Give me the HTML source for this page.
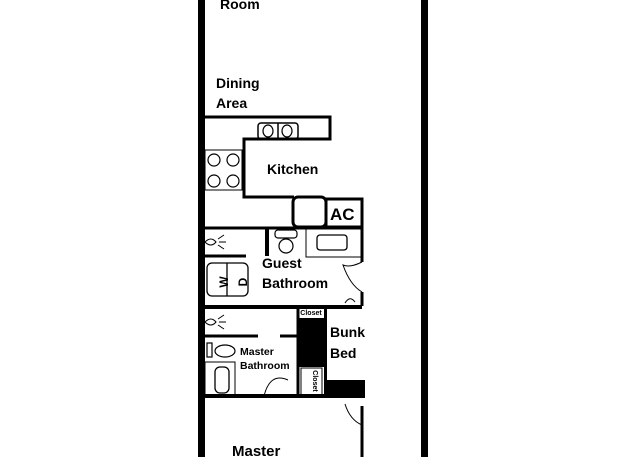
<!DOCTYPE html>
<html><head><style>body{margin:0;background:#fff}svg{display:block}text{font-family:"Liberation Sans",sans-serif;font-weight:bold;fill:#000}</style></head>
<body>
<svg width="640" height="457" viewBox="0 0 640 457">
<rect x="198" y="0" width="7" height="457" fill="#000"/>
<rect x="421" y="0" width="7" height="457" fill="#000"/>
<text x="220" y="9" font-size="14">Room</text>
<text x="216" y="88" font-size="14">Dining</text>
<text x="216" y="108" font-size="14">Area</text>
<g fill="none" stroke="#000">
<path d="M205 117 H330 V139 H244 V197 H294" stroke-width="3"/>
<rect x="258" y="123" width="40" height="16" rx="3" stroke-width="1.5"/>
<line x1="278" y1="123" x2="278" y2="139" stroke-width="1.5"/>
<ellipse cx="268" cy="131" rx="5" ry="6" stroke-width="1.2"/>
<ellipse cx="287" cy="131" rx="5" ry="6" stroke-width="1.2"/>
<rect x="205" y="150" width="37" height="40" stroke-width="1"/>
<circle cx="214" cy="160" r="6" stroke-width="1.2"/><circle cx="233" cy="160" r="6" stroke-width="1.2"/>
<circle cx="214" cy="181" r="6" stroke-width="1.2"/><circle cx="233" cy="181" r="6" stroke-width="1.2"/>
<rect x="293" y="197" width="33" height="30" rx="5" stroke-width="3"/>
<rect x="326" y="199" width="36" height="28" stroke-width="3"/>
<path d="M205 228 H362 V262 M362 292 V306" stroke-width="3"/>
<path d="M362 262 Q350 268 343 265 Q350 285 362 292" stroke-width="1"/>
<rect x="265" y="228" width="4" height="28" fill="#000" stroke="none"/>
<rect x="275" y="230" width="22" height="8" rx="3" stroke-width="1.2"/>
<ellipse cx="286" cy="246" rx="7" ry="7" stroke-width="1.2"/>
<rect x="306" y="229" width="56" height="28" stroke-width="1"/>
<rect x="317" y="235" width="30" height="15" rx="3" stroke-width="1.3"/>
<path d="M205 256 H246" stroke-width="3"/>
<rect x="207" y="263" width="41" height="33" rx="5" stroke-width="1.3"/>
<line x1="227" y1="263" x2="227" y2="296" stroke-width="1.3"/>
<path d="M205 307 H362" stroke-width="4"/>
<path d="M205 336 H258 M280 336 H298" stroke-width="3"/>
<path d="M298 307 V395" stroke-width="3"/>
<rect x="207" y="343" width="5" height="14" stroke-width="1.2"/>
<ellipse cx="225" cy="351" rx="10" ry="6" stroke-width="1.2"/>
<rect x="205" y="362" width="30" height="33" stroke-width="1"/>
<rect x="215" y="367" width="14" height="26" rx="5" stroke-width="1.3"/>
<path d="M205 396 H365" stroke-width="4"/>
<path d="M264 396 Q270 372 288 380" stroke-width="1"/>
<path d="M362 406 V457" stroke-width="3"/>
<path d="M345 404 Q350 420 362 425" stroke-width="1"/>
<path d="M345 303 Q350 295 355 302" stroke-width="1"/>
<path d="M205 242 Q211 236 216 242 Q211 248 205 242 M218 239 l6 -4 M219 242 h7 M218 245 l6 4" stroke-width="1"/>
<path d="M205 322 Q211 316 216 322 Q211 328 205 322 M218 319 l6 -4 M219 322 h7 M218 325 l6 4" stroke-width="1"/>
<rect x="301" y="368" width="21" height="27" stroke-width="1"/>
</g>
<rect x="298" y="318" width="26" height="49" fill="#000"/>
<rect x="324" y="307" width="3" height="80" fill="#000"/>
<rect x="324" y="380" width="41" height="17" fill="#000"/>
<text x="267" y="174" font-size="14">Kitchen</text>
<text x="330" y="220" font-size="17">AC</text>
<text x="262" y="268" font-size="14">Guest</text>
<text x="262" y="288" font-size="14">Bathroom</text>
<text x="223" y="287" font-size="12" transform="rotate(-90 223 282)" text-anchor="middle">W</text>
<text x="242" y="287" font-size="12" transform="rotate(-90 242 282)" text-anchor="middle">D</text>
<text x="311" y="315" font-size="7" text-anchor="middle">Closet</text>
<text x="313" y="381" font-size="7" text-anchor="middle" transform="rotate(90 313 381)">Closet</text>
<text x="330" y="337" font-size="14">Bunk</text>
<text x="330" y="358" font-size="14">Bed</text>
<text x="240" y="355" font-size="10.5">Master</text>
<text x="240" y="369" font-size="10.5">Bathroom</text>
<text x="232" y="456" font-size="15">Master</text>
</svg>
</body></html>
